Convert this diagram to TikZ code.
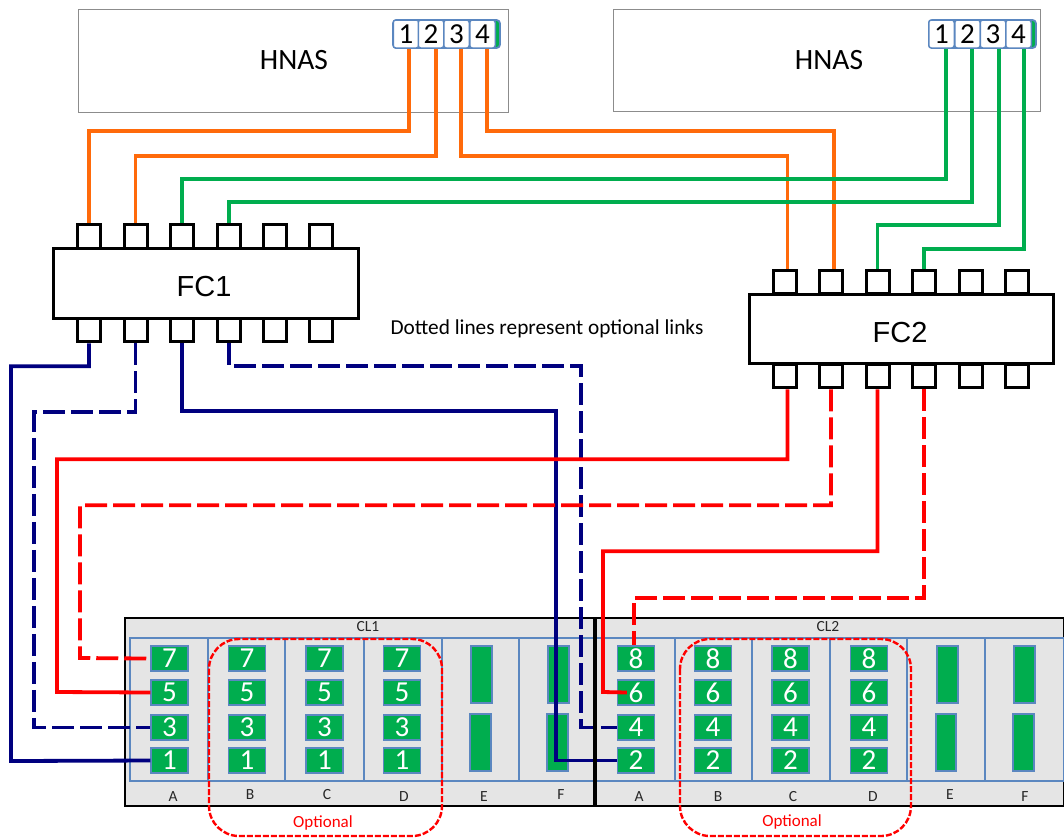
\documentclass[tikz,border=0pt]{standalone}
\usepackage{fontspec}
\setmainfont{Carlito}
\newfontfamily\arialf{Liberation Sans}
\definecolor{cgreen}{HTML}{00AD4E}
\definecolor{cblue}{HTML}{5B87C0}
\definecolor{cgray}{HTML}{E5E5E5}
\definecolor{corange}{HTML}{FF6A0A}
\definecolor{cnavy}{HTML}{00007F}
\definecolor{cred}{HTML}{FF0000}
\newcommand{\fs}[1]{\fontsize{#1}{#1}\selectfont}
\tikzset{
 x=1pt,y=-1pt,
 hnasbox/.style={draw=black!45,line width=1.2pt,fill=white,anchor=north west,inner sep=0pt},
 hgroup/.style={draw=cblue,line width=1.8pt,fill=cgreen,rounded corners=3.5pt},
 hport/.style={draw=cblue,line width=1.5pt,fill=white,rounded corners=2.5pt,minimum height=28pt,minimum width=25.5pt,inner sep=0pt,font=\fs{29}},
 fcbox/.style={draw=black,line width=3pt,fill=white,inner sep=0pt},
 fcport/.style={draw=black,line width=3pt,fill=white,minimum width=23pt,minimum height=23.5pt,inner sep=0pt},
 cell/.style={draw=cblue,line width=1.2pt,fill=cgreen,text=white,minimum width=37pt,minimum height=25pt,inner sep=0pt,font=\fs{29}},
 bar/.style={draw=cblue,line width=1.2pt,fill=cgreen,inner sep=0pt},
 encl/.style={draw=black,line width=2.8pt,fill=cgray,outer sep=0pt},
 slot/.style={draw=cblue,line width=1.2pt},
 lbl/.style={font=\fs{15.5},text=black!85,inner sep=0pt},
 optbox/.style={draw=cred,line width=2.4pt,dash pattern=on 6pt off 2pt,rounded corners=30pt},
 opttext/.style={font=\fs{17},text=cred,inner sep=0pt},
 lnk/.style={line width=3.8pt},
 solidl/.style={lnk},
 dashl/.style={lnk,dash pattern=on 22pt off 6pt},
 fctext/.style={font=\arialf\fs{29},inner sep=0pt},
 hname/.style={font=\fs{29.5},inner sep=0pt},
}
\begin{document}
\begin{tikzpicture}
\useasboundingbox (0,0) rectangle (1064,839);
% HNAS boxes
\node[hnasbox,minimum width=430pt,minimum height=103pt] (h1) at (78,9) {};
\node[hnasbox,minimum width=427pt,minimum height=102pt] (h2) at (613,9) {};
\node[hname] (h1t) at (294,60) {HNAS};
\node[hname] (h2t) at (829,60) {HNAS};
% HNAS ports
\draw[hgroup] (393,20) rectangle (500,48);
\draw[hgroup] (929,20) rectangle (1036,48);
\foreach \n/\x in {1/406,2/431,3/456.5,4/482.5}{
 \node[hport] (ha\n) at (\x,34) {\n};
}
\foreach \n/\x in {1/941.5,2/967.5,3/993,4/1018.5}{
 \node[hport] (hb\n) at (\x,34) {\n};
}
% FC1
\foreach \n/\x in {1/89,2/135.5,3/182,4/229,5/275,6/321}{
 \node[fcport] (fa\n) at (\x,236.5) {};
 \node[fcport] (ga\n) at (\x,330) {};
}
\node[fcbox,minimum width=305pt,minimum height=70pt] (fc1) at (205.5,283) {};
\node[fctext] (fc1t) at (204,287) {FC1};
% FC2
\foreach \n/\x in {1/784.5,2/831,3/877.5,4/924,5/971,6/1017}{
 \node[fcport] (fb\n) at (\x,282) {};
 \node[fcport] (gb\n) at (\x,376) {};
}
\node[fcbox,minimum width=304pt,minimum height=69pt] (fc2) at (901,328.5) {};
\node[fctext] (fc2t) at (900,333) {FC2};
% enclosures
\node[encl,minimum width=470pt,minimum height=188pt,anchor=north west,inner sep=0pt] (cl1) at (125,618) {};
\node[encl,minimum width=469pt,minimum height=188pt,anchor=north west,inner sep=0pt] (cl2) at (595,618) {};
\node[lbl] (cl1t) at (368,627) {CL1};
\node[lbl] (cl2t) at (828,627) {CL2};
% slots
\draw[slot] (130,638) rectangle (1064,781);
\foreach \x in {208,285,442,519,675,752,907,985}{\draw[slot] (\x,638) -- (\x,781);}
\draw[slot,line width=2pt] (364,638) -- (364,781);
\draw[slot,line width=2pt] (830,638) -- (830,781);
% cells CL1
\foreach \c/\x in {a/169.5,b/247,c/324.5,d/402}{
 \foreach \n/\y in {7/658.5,5/692.5,3/727.5,1/760.5}{
  \node[cell] (p\c\n) at (\x,\y) {\n};
 }
}
% cells CL2
\foreach \c/\x in {e/636,f/713,g/790.5,h/869}{
 \foreach \n/\y in {8/658.5,6/692.5,4/727.5,2/760.5}{
  \node[cell] (p\c\n) at (\x,\y) {\n};
 }
}
% bars
\draw[bar] (471,646) rectangle (492,703);
\draw[bar] (470,714) rectangle (491,771);
\draw[bar] (548,646) rectangle (569,703);
\draw[bar] (547,714) rectangle (568,771);
\draw[bar] (937,646) rectangle (958,703);
\draw[bar] (936,714) rectangle (956,771);
\draw[bar] (1014,646) rectangle (1035,703);
\draw[bar] (1013,714) rectangle (1034,771);
% column letters
\foreach \t/\x/\y in {A/173/797,B/250/795,C/327/795,D/404/797,E/484/797,F/561/795,A/639/797,B/718/797,C/793/797,D/873/797,E/950/795,F/1025/797}{
 \node[lbl] at (\x,\y) {\t};
}
% orange links
\draw[solidl,corange] (ha1.south) ++(3,0) coordinate (oa) -- ++(0,82) -| (fa1.north);
\draw[solidl,corange] (ha2.south) ++(5,0) coordinate (ob) -- ++(0,107) -| (fa2.north);
\draw[solidl,corange] (ha3.south) ++(4.5,0) coordinate (oc) -- ++(0,107) -| ([xshift=3pt]fb1.north);
\draw[solidl,corange] (ha4.south) ++(4.5,0) coordinate (od) -- ++(0,82) -| ([xshift=3pt]fb2.north);
% green links
\draw[solidl,cgreen] (hb1.south) ++(4.5,0) coordinate (ga) -- ++(0,130) -| (fa3.north);
\draw[solidl,cgreen] (hb2.south) ++(4.5,0) coordinate (gb) -- ++(0,153) -| (fa4.north);
\draw[solidl,cgreen] (hb3.south) ++(6,0) coordinate (gc) -- ++(0,176) -| (fb3.north);
\draw[solidl,cgreen] (hb4.south) ++(5.5,0) coordinate (gd) -- ++(0,200) -| (fb4.north);
% navy links
\draw[solidl,cnavy] (ga1.south) -- ++(0,23) -| (11,761) -- (pa1.west);
\draw[dashl,cnavy] (ga2.south) -- ++(0,69) -| (34,727.5) -- (pa3.west);
\draw[solidl,cnavy] (ga3.south) -- ++(0,68) -| (556,760.5) -- (pe2.west);
\draw[dashl,cnavy] (ga4.south) -- ++(0,23) -| (581,727.5) -- (pe4.west);
% red links
\draw[solidl,cred] ([xshift=3pt]gb1.south) -- ++(0,70) -| (57,692) -- (pa5.west);
\draw[dashl,cred] (gb2.south) -- ++(0,116) -| (80,658) -- ([xshift=-4pt]pa7.west);
\draw[solidl,cred] (gb3.south) -- ++(0,162) -| (603,692) -- ([xshift=10pt]pe6.west);
\draw[dashl,cred] (gb4.south) -- ++(0,209) -| ([xshift=-2pt]pe8.north);
% divider between enclosures, over the links
\draw[draw=black,line width=3.2pt] (cl2.north west) -- (cl2.south west);
% optional enclosures
\draw[optbox] (209,639) rectangle (442,836);
\draw[optbox] (680,639) rectangle (911,836);
\node[opttext] (o1) at (323,823) {Optional};
\node[opttext] (o2) at (792,822) {Optional};
\node[font=\fs{21.3},inner sep=0pt] (note) at (547,329) {Dotted lines represent optional links};
\end{tikzpicture}
\end{document}
